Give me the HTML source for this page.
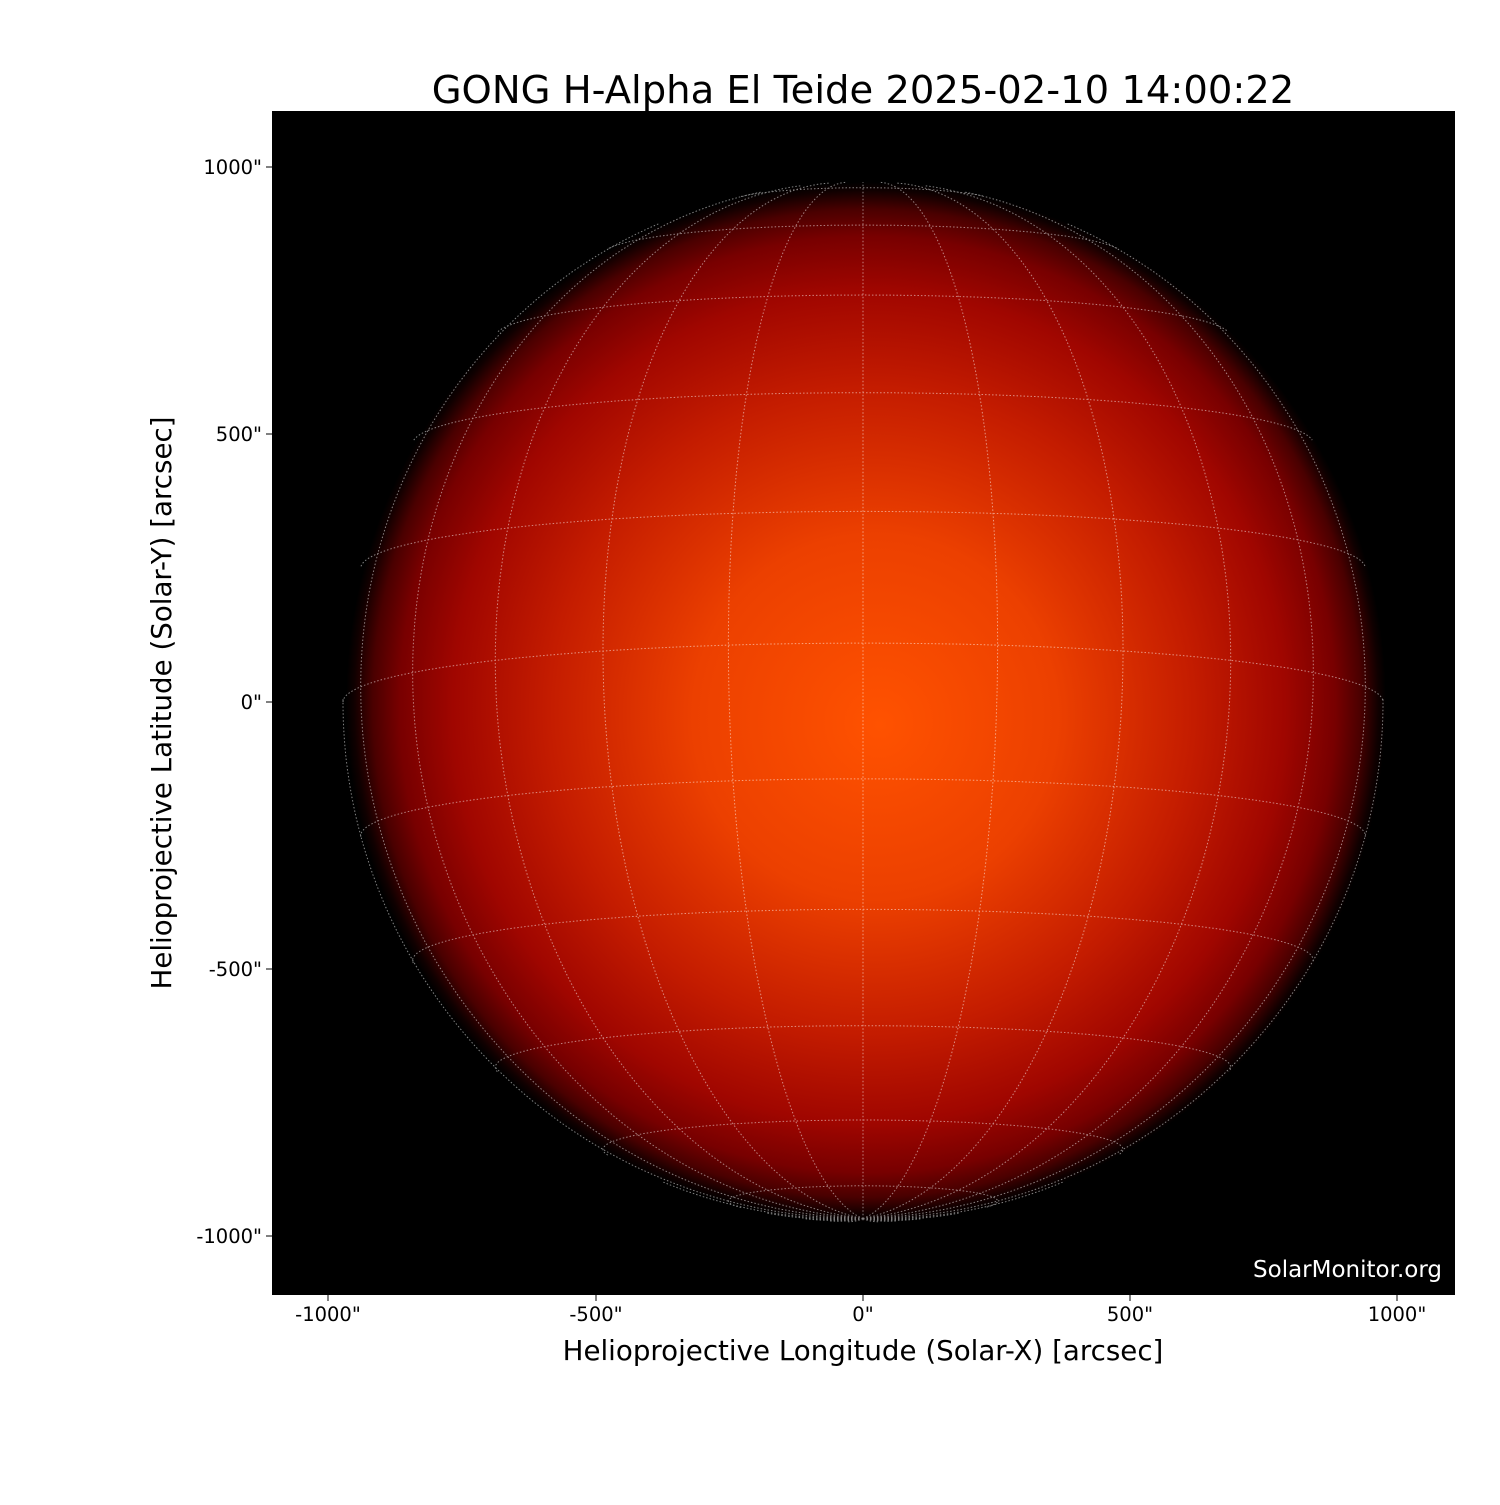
<!DOCTYPE html>
<html><head><meta charset="utf-8"><style>
body{margin:0;background:#fff;width:1500px;height:1500px;overflow:hidden;font-family:"Liberation Sans","DejaVu Sans",sans-serif}
</style></head><body>
<svg id="s" width="1500" height="1500" xmlns="http://www.w3.org/2000/svg" font-family="DejaVu Sans, Liberation Sans, sans-serif">
<defs>
<radialGradient id="g" cx="866" cy="702" r="520" fx="880" fy="725" gradientUnits="userSpaceOnUse">
<stop offset="0" stop-color="#ff5200"/>
<stop offset="0.35" stop-color="#ec4000"/>
<stop offset="0.62" stop-color="#c41c00"/>
<stop offset="0.8" stop-color="#a00600"/>
<stop offset="0.9" stop-color="#780000"/>
<stop offset="0.95" stop-color="#4a0000"/>
<stop offset="0.985" stop-color="#100000"/>
<stop offset="1" stop-color="#000"/>
</radialGradient>
<clipPath id="ax"><rect x="272" y="111" width="1183" height="1184"/></clipPath>
</defs>
<text x="863" y="103" font-size="38.5" text-anchor="middle">GONG H-Alpha El Teide 2025-02-10 14:00:22</text>
<rect x="272" y="111" width="1183" height="1184" fill="#000"/>
<circle cx="866" cy="702" r="520" fill="url(#g)" clip-path="url(#ax)"/>
<g id="grid" fill="none" stroke="#fff" stroke-width="1" stroke-dasharray="1.5,2" opacity="0.5" clip-path="url(#ax)"></g>
<text x="1442" y="1277" font-size="23" fill="#fff" text-anchor="end">SolarMonitor.org</text>
<g stroke="#000" stroke-width="1">
<line x1="266" y1="167" x2="272" y2="167"/><line x1="266" y1="434" x2="272" y2="434"/><line x1="266" y1="702" x2="272" y2="702"/><line x1="266" y1="969" x2="272" y2="969"/><line x1="266" y1="1236" x2="272" y2="1236"/>
<line x1="328" y1="1295" x2="328" y2="1301"/><line x1="596" y1="1295" x2="596" y2="1301"/><line x1="863" y1="1295" x2="863" y2="1301"/><line x1="1130" y1="1295" x2="1130" y2="1301"/><line x1="1397" y1="1295" x2="1397" y2="1301"/>
</g>
<g font-size="19.5" text-anchor="end">
<text x="262" y="174">1000"</text><text x="262" y="441">500"</text><text x="262" y="709">0"</text><text x="262" y="976">-500"</text><text x="262" y="1243">-1000"</text>
</g>
<g font-size="19.5" text-anchor="middle">
<text x="328" y="1321">-1000"</text><text x="596" y="1321">-500"</text><text x="863" y="1321">0"</text><text x="1130" y="1321">500"</text><text x="1397" y="1321">1000"</text>
</g>
<text x="863" y="1360" font-size="27.7" text-anchor="middle">Helioprojective Longitude (Solar-X) [arcsec]</text>
<text transform="translate(171,703) rotate(-90)" font-size="27.7" text-anchor="middle">Helioprojective Latitude (Solar-Y) [arcsec]</text>
</svg>
<script>
var cx=863,cy=702,R=520,B=-6.5*Math.PI/180,d=Math.PI/180,g=document.getElementById('grid'),out='';
function pt(lat,lon){var x=R*Math.cos(lat)*Math.sin(lon),y=R*(Math.sin(lat)*Math.cos(B)-Math.cos(lat)*Math.cos(lon)*Math.sin(B)),z=Math.cos(lat)*Math.cos(lon)*Math.cos(B)+Math.sin(lat)*Math.sin(B);return [cx+x,cy-y,z];}
function line(f){var p='',on=false;for(var t=0;t<=360;t++){var q=f(t);if(q[2]>=-0.001){p+=(on?'L':'M')+q[0].toFixed(1)+' '+q[1].toFixed(1);on=true;}else on=false;}out+='<path d="'+p+'"/>';}
for(var la=-75;la<=75;la+=15)line(function(t){return pt(la*d,(t-180)*d);});
for(var lo=-180;lo<180;lo+=15)line(function(t){return pt((t/2-90)*d,lo*d);});
g.innerHTML=out;
</script>
</body></html>
